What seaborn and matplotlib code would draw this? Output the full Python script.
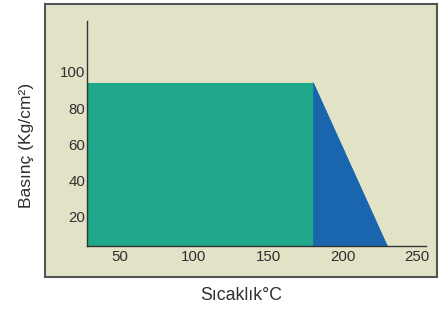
"""
Pressure vs temperature region chart.
"""

import matplotlib

matplotlib.use("Agg")
import matplotlib.pyplot as plt
import seaborn as sns
import pandas as pd

# data
temp_green = [28, 180]
press_green = [94, 94]
temp_blue = [180, 232]
press_blue = [94, 0]
x_ticks = [50, 100, 150, 200, 250]
y_ticks = [20, 40, 60, 80, 100]

sns.set_theme(style="white")
plt.rcParams["font.family"] = ["Liberation Sans", "DejaVu Sans"]

fig = plt.figure(figsize=(4.44, 3.09), dpi=100)
fig.patch.set_facecolor("white")

W, H = 444, 309

# beige panel with a dark border behind the plot
bg = fig.add_axes([45 / W, 1 - 277 / H, (437 - 45) / W, (277 - 4) / H])
bg.set_facecolor("#e2e3c6")
bg.set_xticks([])
bg.set_yticks([])
for s in bg.spines.values():
    s.set_visible(True)
    s.set_color("#555555")
    s.set_linewidth(1.5)
bg.set_zorder(0)

ax = fig.add_axes([87 / W, 1 - 246 / H, (426 - 87) / W, (246 - 21) / H])
ax.set_facecolor("none")
ax.set_zorder(1)

green = pd.DataFrame({"temp": temp_green, "press": press_green})
blue = pd.DataFrame({"temp": temp_blue, "press": press_blue})

ax.fill_between(green["temp"], 0, green["press"], facecolor="#20a88a",
                edgecolor="#20a88a", linewidth=0.8)
ax.fill_between(blue["temp"], 0, blue["press"], facecolor="#1a66ae",
                edgecolor="#1a66ae", linewidth=0.5)
sns.lineplot(data=blue, x="temp", y="press", ax=ax, color="#1a66ae", linewidth=0.5)

ax.set_xlim(28, 256)
ax.set_ylim(4, 128)
ax.set_xticks(x_ticks)
ax.set_yticks(y_ticks)
ax.tick_params(axis="both", length=0, labelsize=10.8, labelcolor="#2f2f2f")
ax.tick_params(axis="x", pad=3)
ax.tick_params(axis="y", pad=1)

for side in ["top", "right"]:
    ax.spines[side].set_visible(False)
for side in ["left", "bottom"]:
    ax.spines[side].set_color("#333333")
    ax.spines[side].set_linewidth(1.0)

ax.set_xlabel("")
ax.set_ylabel("")
fig.text(241 / W, 1 - 296 / H, "Sıcaklık°C", ha="center", va="center",
         fontsize=12.8, color="#2f2f2f")
fig.text(27 / W, 1 - 145 / H, "Basınç (Kg/cm²)", ha="center", va="center",
         rotation=90, fontsize=12.6, color="#2f2f2f")

plt.savefig("out.png", dpi=100)
plt.close()
